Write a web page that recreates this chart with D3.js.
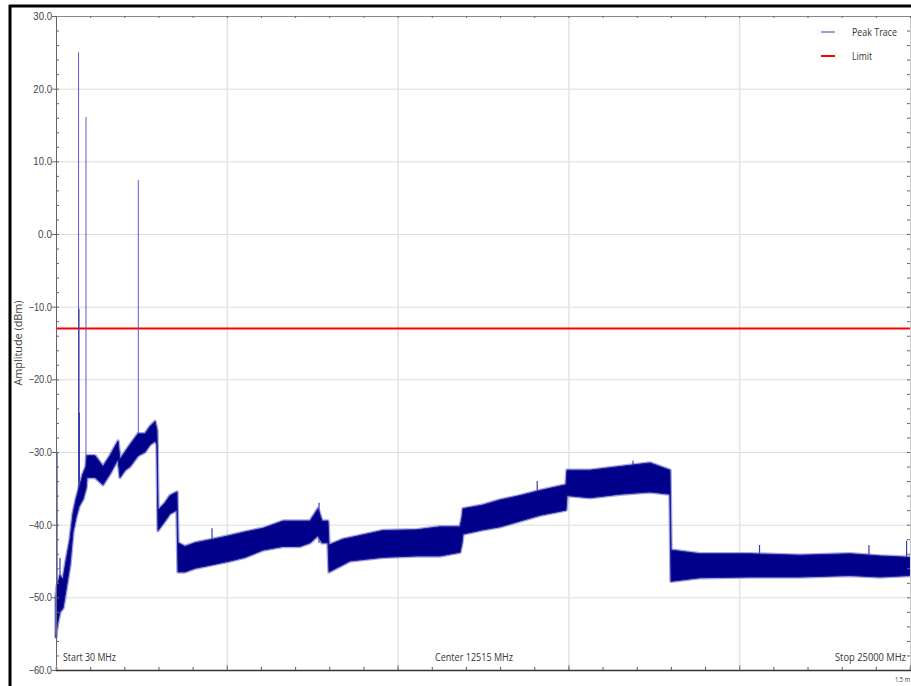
<!DOCTYPE html>
<html>
<head>
<meta charset="utf-8">
<script src="https://cdn.jsdelivr.net/npm/d3@7"></script>
<style>
  body { margin: 0; background: #fff; }
  svg { display: block; font-family: "Open Sans", "Noto Sans", sans-serif; }
  .tick text { fill: #444; }
</style>
</head>
<body>
<svg id="chart" width="911" height="686"></svg>
<script>
// peak trace envelope: [MHz, low dBm, high dBm]
var traceFreq = [30, 59, 147, 235, 322, 439, 527, 615, 702, 819, 907, 936, 1170, 1404, 1609, 1843, 1901, 2048, 2194, 2428,
    2632, 2778, 2925, 2983, 3012, 3217, 3363, 3568, 3597, 3802, 4094, 4621, 5118, 5556, 6082, 6667, 7164, 7457, 7691, 7808,
    7983, 8012, 8422, 8626, 9591, 10585, 11258, 11843, 11901, 11931, 12515, 13012, 13597, 14182, 14942, 14971, 15644, 16521,
    17398, 17983, 18012, 18860, 20322, 21784, 23246, 24123, 25000];
var traceLow = [-55.5, -54, -52, -51.5, -49, -45.5, -41, -39, -37.5, -36.5, -35, -33.5, -33.5, -34.5, -33, -31, -33.5, -32.5, -32, -30.5,
    -30, -29, -28.5, -29, -40.8, -39.5, -38.5, -38, -46.5, -46.5, -46, -45.5, -45, -44.5, -43.5, -43, -43, -42.5, -41.5, -42.5,
    -42.5, -46.5, -45.5, -45, -44.5, -44.3, -44.3, -43.8, -42.5, -41.3, -40.7, -40.3, -39.5, -38.7, -38, -36, -36.3, -35.8,
    -35.5, -35.8, -47.8, -47.3, -47.2, -47.2, -47, -47.2, -47];
var traceHigh = [-50, -48.5, -47, -47.5, -45, -42, -38.5, -36.5, -35, -33, -32, -30.5, -30.5, -32, -30.5, -28.5, -31, -30, -29, -27.5,
    -27.5, -26.5, -25.8, -27, -38, -37, -36, -35.5, -42.5, -43, -42.5, -42, -41.5, -41, -40.5, -39.5, -39.5, -39.5, -37.8, -39.5,
    -39.5, -42.8, -42, -41.8, -40.8, -40.7, -40.3, -40.3, -39, -37.8, -37.3, -36.6, -36, -35.3, -34.5, -32.5, -32.5, -32,
    -31.5, -32.5, -43.5, -44, -44, -44.2, -44, -44.3, -44.5];

// narrow spurs above the trace: [MHz, peak dBm]
var spurFreq = [59, 147, 690, 700, 715, 907, 2436, 4592, 7720, 14100, 16900, 20600, 23800, 24900];
var spurPeak = [-30, -44.6, 25.0, -10.3, -24.6, 16.1, 7.4, -40.5, -37, -34, -31.2, -42.8, -42.8, -42.2];

var limitLevel = -13;
var startFreq = 30, centerFreq = 12515, stopFreq = 25000;
var yTicks = [-60, -50, -40, -30, -20, -10, 0, 10, 20, 30];

var svg = d3.select("#chart");
var plotLeft = 56, plotRight = 910, plotTop = 16, plotBottom = 670;

var x = d3.scaleLinear().domain([startFreq, stopFreq]).range([plotLeft, plotRight]);
var y = d3.scaleLinear().domain([-60, 30]).range([plotBottom, plotTop]);

var xMajor = d3.range(6).map(function(k) { return startFreq + k * (stopFreq - startFreq) / 5; });
var xMinor = d3.range(26).map(function(k) { return startFreq + k * (stopFreq - startFreq) / 25; });
var yMinor = d3.range(-60, 31, 2);

// outer black frame
svg.append("line").attr("x1", 9).attr("x2", 911).attr("y1", 6).attr("y2", 6)
    .attr("stroke", "#000").attr("stroke-width", 3);
svg.append("line").attr("x1", 10).attr("x2", 10).attr("y1", 5).attr("y2", 686)
    .attr("stroke", "#000").attr("stroke-width", 3);

// grid
svg.append("g").attr("transform", "translate(" + plotLeft + ",0)")
    .call(d3.axisLeft(y).tickValues(yTicks).tickSize(-(plotRight - plotLeft)).tickFormat(""))
    .call(function(g) {
        g.select(".domain").remove();
        g.selectAll("line").attr("stroke", "#dcdcdc");
    });
svg.append("g").attr("transform", "translate(0," + plotBottom + ")")
    .call(d3.axisBottom(x).tickValues(xMajor.slice(1, 5)).tickSize(-(plotBottom - plotTop)).tickFormat(""))
    .call(function(g) {
        g.select(".domain").remove();
        g.selectAll("line").attr("stroke", "#e2e2e2").attr("stroke-width", 1.5);
    });

// limit line
svg.append("line")
    .attr("x1", x(startFreq)).attr("x2", x(stopFreq))
    .attr("y1", y(limitLevel)).attr("y2", y(limitLevel))
    .attr("stroke", "#ff0000").attr("stroke-width", 2);

// trace
var traceData = traceFreq.map(function(f, i) { return [f, traceLow[i], traceHigh[i]]; });

var spurs = svg.append("g");
spurFreq.forEach(function(f, i) {
    var j = d3.bisectLeft(traceFreq, f);
    var base = traceData[Math.min(j, traceData.length - 1)][1];
    spurs.append("line")
        .attr("x1", x(f)).attr("x2", x(f))
        .attr("y1", y(base)).attr("y2", y(spurPeak[i]))
        .attr("stroke", spurPeak[i] > 0 ? "#5a5ac4" : "#3a3ab0")
        .attr("stroke-width", spurPeak[i] > 0 ? 1 : 1.2);
});

var band = d3.area()
    .x(function(d) { return x(d[0]); })
    .y0(function(d) { return y(d[1]); })
    .y1(function(d) { return y(d[2]); });

// soft halo for the noisy edges, then the dense core
svg.append("path")
    .datum(traceData)
    .attr("d", band)
    .attr("fill", "none")
    .attr("stroke", "#5c5cbc")
    .attr("stroke-opacity", 0.55)
    .attr("stroke-width", 3.5)
    .attr("stroke-linejoin", "round");
svg.append("path")
    .datum(traceData)
    .attr("d", band)
    .attr("fill", "#00008b")
    .attr("stroke", "#1a1a9c")
    .attr("stroke-width", 1);

// labels use a narrow face in the source, so squeeze to the measured widths
function narrow(sel, w) { return sel.attr("textLength", w).attr("lengthAdjust", "spacingAndGlyphs"); }

// axes
var yAxis = svg.append("g").attr("transform", "translate(" + plotLeft + ",0)")
    .call(d3.axisLeft(y).tickValues(yTicks).tickSize(4).tickFormat(d3.format(".1f")));
yAxis.select(".domain").attr("stroke", "#666");
yAxis.selectAll("line").attr("stroke", "#666");
yAxis.selectAll("text").attr("font-size", 10.5).attr("x", -4)
    .each(function(d) {
        var s = d3.format(".1f")(d);
        d3.select(this).call(narrow, s.length * 4.8 - 0.5);
    });

svg.append("g").attr("transform", "translate(" + plotLeft + ",0)")
    .call(d3.axisRight(y).tickValues(yMinor).tickSize(3).tickFormat(""))
    .call(function(g) { g.select(".domain").remove(); g.selectAll("line").attr("stroke", "#666"); });
svg.append("g").attr("transform", "translate(" + plotRight + ",0)")
    .call(d3.axisLeft(y).tickValues(yMinor).tickSize(3).tickFormat(""))
    .call(function(g) { g.select(".domain").attr("stroke", "#ccc"); g.selectAll("line").attr("stroke", "#666"); });

svg.append("g").attr("transform", "translate(0," + plotTop + ")")
    .call(d3.axisBottom(x).tickValues(xMinor).tickSize(2).tickFormat(""))
    .call(function(g) { g.select(".domain").attr("stroke", "#888"); g.selectAll("line").attr("stroke", "#666"); });

svg.append("g").attr("transform", "translate(0," + plotBottom + ")")
    .call(d3.axisTop(x).tickValues(xMinor).tickSize(3).tickFormat(""))
    .call(function(g) {
        g.select(".domain").attr("stroke", "#333").attr("stroke-width", 1.5);
        g.selectAll("line").attr("stroke", "#555");
    });
svg.append("g").attr("transform", "translate(0," + plotBottom + ")")
    .call(d3.axisTop(x).tickValues(xMajor).tickSize(5).tickFormat(""))
    .call(function(g) { g.select(".domain").remove(); g.selectAll("line").attr("stroke", "#888"); });

// labels
svg.append("text")
    .attr("transform", "translate(22," + ((plotTop + plotBottom) / 2) + ") rotate(-90)")
    .attr("text-anchor", "middle")
    .attr("font-size", 10.5)
    .attr("fill", "#444")
    .text("Amplitude (dBm)")
    .call(narrow, 85);

var freqLabels = svg.append("g").attr("font-size", 10.5).attr("fill", "#333");
freqLabels.append("text").attr("x", plotLeft + 7).attr("y", plotBottom - 9)
    .text("Start " + startFreq + " MHz").call(narrow, 53);
freqLabels.append("text").attr("x", x(centerFreq) - 48).attr("y", plotBottom - 9)
    .text("Center " + centerFreq + " MHz").call(narrow, 78);
freqLabels.append("text").attr("x", plotRight - 75).attr("y", plotBottom - 9)
    .text("Stop " + stopFreq + " MHz").call(narrow, 71);

svg.append("text").attr("x", 895).attr("y", 682)
    .attr("font-size", 7).attr("fill", "#333").text("1.5 m").call(narrow, 15);

// legend
var legend = svg.append("g").attr("font-size", 10.5).attr("fill", "#333");
legend.append("line").attr("x1", 821).attr("x2", 835).attr("y1", 32).attr("y2", 32)
    .attr("stroke", "#7878c8").attr("stroke-width", 1.5);
legend.append("text").attr("x", 852).attr("y", 35.5).text("Peak Trace").call(narrow, 45);
legend.append("line").attr("x1", 821).attr("x2", 835).attr("y1", 56).attr("y2", 56)
    .attr("stroke", "#ff0000").attr("stroke-width", 2);
legend.append("text").attr("x", 852).attr("y", 59.5).text("Limit").call(narrow, 20);
</script>
</body>
</html>
